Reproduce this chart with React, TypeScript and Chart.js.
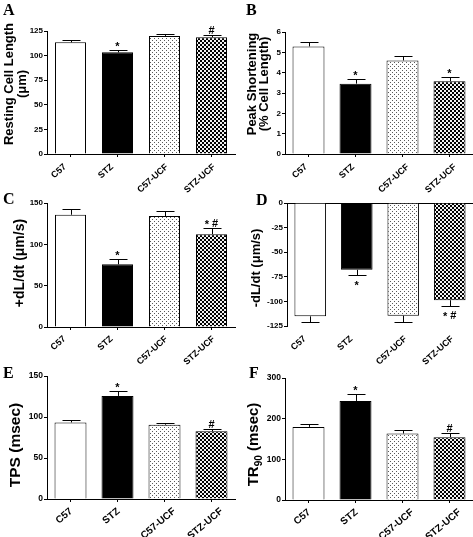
import React, { useEffect, useRef } from "react";
import { Chart, registerables } from "chart.js";

Chart.register(...registerables);

// ---------------- data ----------------
const CATEGORIES = ["C57", "STZ", "C57-UCF", "STZ-UCF"];

const RESTING_LENGTH = [113.5, 103.3, 120.0, 118.6];
const RESTING_LENGTH_SEM = [2.0, 2.1, 2.0, 2.4];
const RESTING_LENGTH_MARKS = ["", "*", "", "#"];
const RESTING_LENGTH_TICKS = [0, 25, 50, 75, 100, 125];
const RESTING_LENGTH_TITLE = ["Resting Cell Length", "(μm)"];

const PEAK_SHORTENING = [5.29, 3.46, 4.6, 3.58];
const PEAK_SHORTENING_SEM = [0.23, 0.25, 0.2, 0.19];
const PEAK_SHORTENING_MARKS = ["", "*", "", "*"];
const PEAK_SHORTENING_TICKS = [0, 1, 2, 3, 4, 5, 6];
const PEAK_SHORTENING_TITLE = ["Peak Shortening", "(% Cell Length)"];

const PLUS_DLDT = [135.8, 75.8, 134.2, 112.3];
const PLUS_DLDT_SEM = [6.9, 6.1, 6.1, 6.9];
const PLUS_DLDT_MARKS = ["", "*", "", "* #"];
const PLUS_DLDT_TICKS = [0, 50, 100, 150];
const PLUS_DLDT_TITLE = ["+dL/dt (μm/s)"];

const MINUS_DLDT = [-115.2, -67.9, -114.5, -98.8];
const MINUS_DLDT_SEM = [5.4, 5.5, 6.1, 6.2];
const MINUS_DLDT_MARKS = ["", "*", "", "* #"];
const MINUS_DLDT_TICKS = [0, -25, -50, -75, -100, -125];
const MINUS_DLDT_TITLE = ["-dL/dt (μm/s)"];

const TPS = [93.4, 125.7, 90.6, 82.5];
const TPS_SEM = [2.4, 6.5, 2.4, 3.2];
const TPS_MARKS = ["", "*", "", "#"];
const TPS_TICKS = [0, 50, 100, 150];
const TPS_TITLE = ["TPS (msec)"];

const TR90 = [179.8, 243.6, 163.5, 154.5];
const TR90_SEM = [6.6, 18.0, 9.8, 9.8];
const TR90_MARKS = ["", "*", "", "#"];
const TR90_TICKS = [0, 100, 200, 300];
const TR90_TITLE = ["TR_{90} (msec)"];

// ---------------- layout / style ----------------
type PanelCfg = {
  letter: string;
  values: number[];
  errors: number[];
  marks: string[];
  ticks: number[];
  title: string[];
  left: number; top: number; w: number; h: number;
  area: { l: number; t: number; r: number; b: number };
  letterX: number; letterY: number;
  titleX: number[]; titleY: number; titleSize: number;
  xFont: number; xAngle: number; xDx: number; xDy: number;
  tickFont: number;
  barPct: number;
  hanging?: boolean;
};

const PANELS: PanelCfg[] = [
  {
    letter: "A", values: RESTING_LENGTH, errors: RESTING_LENGTH_SEM, marks: RESTING_LENGTH_MARKS,
    ticks: RESTING_LENGTH_TICKS, title: RESTING_LENGTH_TITLE,
    left: 0, top: 0, w: 236, h: 200, area: { l: 47, t: 31, r: 235, b: 154 },
    letterX: 3, letterY: 15, titleX: [9, 22], titleY: 84, titleSize: 13,
    xFont: 9, xAngle: 42, xDx: -12, xDy: 9, tickFont: 8, barPct: 0.66,
  },
  {
    letter: "B", values: PEAK_SHORTENING, errors: PEAK_SHORTENING_SEM, marks: PEAK_SHORTENING_MARKS,
    ticks: PEAK_SHORTENING_TICKS, title: PEAK_SHORTENING_TITLE,
    left: 236, top: 0, w: 237, h: 200, area: { l: 49, t: 32, r: 237, b: 154 },
    letterX: 10, letterY: 15, titleX: [16.7, 28.7], titleY: 84, titleSize: 13,
    xFont: 9, xAngle: 42, xDx: -9, xDy: 9, tickFont: 8, barPct: 0.68,
  },
  {
    letter: "C", values: PLUS_DLDT, errors: PLUS_DLDT_SEM, marks: PLUS_DLDT_MARKS,
    ticks: PLUS_DLDT_TICKS, title: PLUS_DLDT_TITLE,
    left: 0, top: 175, w: 236, h: 200, area: { l: 47, t: 28, r: 235, b: 152 },
    letterX: 3, letterY: 29, titleX: [20.5], titleY: 88, titleSize: 14,
    xFont: 9, xAngle: 42, xDx: -12.5, xDy: 8, tickFont: 8, barPct: 0.66,
  },
  {
    letter: "D", values: MINUS_DLDT, errors: MINUS_DLDT_SEM, marks: MINUS_DLDT_MARKS,
    ticks: MINUS_DLDT_TICKS, title: MINUS_DLDT_TITLE,
    left: 236, top: 175, w: 237, h: 200, area: { l: 51, t: 28, r: 237, b: 151 },
    letterX: 20, letterY: 30, titleX: [20], titleY: 93, titleSize: 13,
    xFont: 9, xAngle: 42, xDx: -12, xDy: 9, tickFont: 8, barPct: 0.68, hanging: true,
  },
  {
    letter: "E", values: TPS, errors: TPS_SEM, marks: TPS_MARKS,
    ticks: TPS_TICKS, title: TPS_TITLE,
    left: 0, top: 355, w: 236, h: 182, area: { l: 47, t: 21, r: 235, b: 144 },
    letterX: 3, letterY: 23, titleX: [16], titleY: 90, titleSize: 15.5,
    xFont: 10, xAngle: 40, xDx: -7, xDy: 7, tickFont: 8.5, barPct: 0.68,
  },
  {
    letter: "F", values: TR90, errors: TR90_SEM, marks: TR90_MARKS,
    ticks: TR90_TICKS, title: TR90_TITLE,
    left: 236, top: 355, w: 237, h: 182, area: { l: 49, t: 23, r: 237, b: 145 },
    letterX: 13, letterY: 23, titleX: [18.3], titleY: 89.5, titleSize: 15,
    xFont: 10, xAngle: 40, xDx: -7, xDy: 7, tickFont: 8.5, barPct: 0.68,
  },
];

const SANS = '"Liberation Sans", Arial, sans-serif';
const SERIF = '"Liberation Serif", "Times New Roman", serif';

function makeDots(ctx: CanvasRenderingContext2D) {
  const c = document.createElement("canvas");
  c.width = 4; c.height = 4;
  const g = c.getContext("2d")!;
  g.fillStyle = "#ffffff"; g.fillRect(0, 0, 4, 4);
  g.fillStyle = "#5a5a5a";
  g.fillRect(0, 0, 1, 1);
  g.fillRect(2, 2, 1, 1);
  return ctx.createPattern(c, "repeat")!;
}

function makeChecker(ctx: CanvasRenderingContext2D) {
  const c = document.createElement("canvas");
  c.width = 4; c.height = 4;
  const g = c.getContext("2d")!;
  g.fillStyle = "#f2f2f2"; g.fillRect(0, 0, 4, 4);
  g.fillStyle = "#000000";
  g.fillRect(0, 0, 2, 2);
  g.fillRect(2, 2, 2, 2);
  return ctx.createPattern(c, "repeat")!;
}

function parseSegments(s: string) {
  const out: { text: string; sub: boolean }[] = [];
  const re = /_\{([^}]*)\}/g;
  let last = 0;
  let m: RegExpExecArray | null;
  while ((m = re.exec(s))) {
    if (m.index > last) out.push({ text: s.slice(last, m.index), sub: false });
    out.push({ text: m[1], sub: true });
    last = m.index + m[0].length;
  }
  if (last < s.length) out.push({ text: s.slice(last), sub: false });
  return out;
}

function Panel({ cfg }: { cfg: PanelCfg }) {
  const ref = useRef<HTMLCanvasElement>(null);

  useEffect(() => {
    const canvas = ref.current!;
    const ctx2d = canvas.getContext("2d")!;
    const fills = ["#ffffff", "#000000", makeDots(ctx2d), makeChecker(ctx2d)];

    const errorBars = {
      id: "errorBars" + cfg.letter,
      afterDatasetsDraw(chart: any) {
        const ctx: CanvasRenderingContext2D = chart.ctx;
        const meta = chart.getDatasetMeta(0);
        const ys = chart.scales.y;
        ctx.save();
        ctx.strokeStyle = "#000";
        ctx.fillStyle = "#000";
        ctx.lineWidth = 1;
        meta.data.forEach((bar: any, i: number) => {
          const v = cfg.values[i];
          const e = cfg.errors[i];
          const dir = v >= 0 ? 1 : -1;
          const x = Math.round(bar.x) + 0.5;
          const y0 = ys.getPixelForValue(v);
          const y1 = Math.round(ys.getPixelForValue(v + dir * e)) + 0.5;
          const hw = Math.round(bar.width * 0.28);
          ctx.beginPath();
          ctx.moveTo(x, y0);
          ctx.lineTo(x, y1);
          ctx.moveTo(x - hw, y1);
          ctx.lineTo(x + hw, y1);
          ctx.stroke();

          const mark = cfg.marks[i];
          if (mark) {
            const chars = mark.split(" ").filter(Boolean);
            ctx.font = `bold 11px ${SANS}`;
            const gap = 3;
            const widths = chars.map((ch) => ctx.measureText(ch).width);
            const total = widths.reduce((a, b) => a + b, 0) + gap * (chars.length - 1);
            let cx = bar.x - total / 2;
            const cy = dir > 0 ? y1 - 6 : y1 + 8;
            ctx.textAlign = "left";
            ctx.textBaseline = "alphabetic";
            chars.forEach((ch, k) => {
              const m = ctx.measureText(ch);
              const base = cy + (m.actualBoundingBoxAscent - m.actualBoundingBoxDescent) / 2;
              ctx.fillText(ch, cx, base);
              cx += widths[k] + gap;
            });
          }
        });
        ctx.restore();
      },
    };

    const xLabels = {
      id: "xLabels" + cfg.letter,
      afterDraw(chart: any) {
        const ctx: CanvasRenderingContext2D = chart.ctx;
        const xs = chart.scales.x;
        const axisY = chart.chartArea.bottom;
        const ang = (cfg.xAngle * Math.PI) / 180;
        const c = Math.cos(ang);
        const s = Math.sin(ang);
        ctx.save();
        ctx.fillStyle = "#000";
        ctx.font = `bold ${cfg.xFont}px ${SANS}`;
        ctx.textAlign = "left";
        ctx.textBaseline = "alphabetic";
        (chart.data.labels as string[]).forEach((lab, i) => {
          const m = ctx.measureText(lab);
          const W = m.width;
          const a = m.actualBoundingBoxAscent;
          const d = m.actualBoundingBoxDescent;
          const minX = -a * s;
          const maxX = W * c + d * s;
          const minY = -W * s - a * c;
          const ox = xs.getPixelForTick(i) + cfg.xDx - (minX + maxX) / 2;
          const oy = axisY + cfg.xDy - minY;
          ctx.save();
          ctx.translate(ox, oy);
          ctx.rotate(-ang);
          ctx.fillText(lab, 0, 0);
          ctx.restore();
        });
        ctx.restore();
      },
    };

    const panelText = {
      id: "panelText" + cfg.letter,
      afterDraw(chart: any) {
        const ctx: CanvasRenderingContext2D = chart.ctx;
        ctx.save();
        ctx.fillStyle = "#000";
        ctx.font = `bold 16px ${SERIF}`;
        ctx.textAlign = "left";
        ctx.textBaseline = "alphabetic";
        ctx.fillText(cfg.letter, cfg.letterX, cfg.letterY);

        const size = cfg.titleSize;
        const fMain = `bold ${size}px ${SANS}`;
        const fSub = `bold ${Math.round(size * 0.65)}px ${SANS}`;
        cfg.title.forEach((line, li) => {
          const segs = parseSegments(line);
          ctx.save();
          ctx.translate(cfg.titleX[li], cfg.titleY);
          ctx.rotate(-Math.PI / 2);
          let total = 0;
          segs.forEach((sg) => {
            ctx.font = sg.sub ? fSub : fMain;
            total += ctx.measureText(sg.text).width;
          });
          let x = -total / 2;
          ctx.textAlign = "left";
          ctx.textBaseline = "middle";
          segs.forEach((sg) => {
            ctx.font = sg.sub ? fSub : fMain;
            ctx.fillText(sg.text, x, sg.sub ? size * 0.32 : 0);
            x += ctx.measureText(sg.text).width;
          });
          ctx.restore();
        });
        ctx.restore();
      },
    };

    const { l, t, r, b } = cfg.area;
    const hanging = !!cfg.hanging;
    const xAxisH = cfg.h - b;

    const chart = new Chart(canvas, {
      type: "bar",
      data: {
        labels: CATEGORIES,
        datasets: [
          {
            data: cfg.values,
            backgroundColor: fills as any,
            borderColor: "#000",
            borderWidth: 1,
            barPercentage: cfg.barPct,
            categoryPercentage: 1,
          },
        ],
      },
      options: {
        animation: false,
        responsive: false,
        maintainAspectRatio: false,
        events: [],
        layout: {
          padding: { left: 0, top: t, right: cfg.w - r, bottom: 0 },
        },
        plugins: {
          legend: { display: false },
          tooltip: { enabled: false },
          title: { display: false },
        },
        scales: {
          x: {
            type: "category",
            offset: true,
            grid: {
              display: !hanging,
              drawOnChartArea: false,
              drawTicks: !hanging,
              tickLength: 3,
              color: "#000",
              offset: false,
            },
            border: { display: !hanging, color: "#000", width: 1 },
            ticks: { display: false, autoSkip: false },
            afterFit: (sc: any) => {
              sc.height = xAxisH;
            },
          },
          y: {
            min: Math.min(...cfg.ticks),
            max: Math.max(...cfg.ticks),
            afterBuildTicks: (sc: any) => {
              sc.ticks = [...cfg.ticks].sort((p, q) => p - q).map((v) => ({ value: v }));
            },
            grid: {
              display: true,
              drawOnChartArea: hanging,
              drawTicks: true,
              tickLength: 3,
              color: (c: any) => (hanging && c.tick && c.tick.value === 0 ? "#000" : "rgba(0,0,0,0)"),
              tickColor: "#000",
              lineWidth: 1,
            },
            border: { display: true, color: "#000", width: 1 },
            ticks: {
              padding: 1,
              color: "#000",
              font: { family: SANS, size: cfg.tickFont, weight: "bold" },
            },
            afterFit: (sc: any) => {
              sc.width = l;
            },
          },
        },
      },
      plugins: [errorBars, xLabels, panelText],
    } as any);

    return () => chart.destroy();
  }, [cfg]);

  return (
    <canvas
      ref={ref}
      width={cfg.w}
      height={cfg.h}
      style={{ position: "absolute", left: cfg.left, top: cfg.top, width: cfg.w, height: cfg.h }}
    />
  );
}

export default function App() {
  return (
    <div
      style={{
        position: "absolute",
        left: 0,
        top: 0,
        width: 473,
        height: 537,
        background: "#ffffff",
        overflow: "hidden",
      }}
    >
      {PANELS.map((p) => (
        <Panel key={p.letter} cfg={p} />
      ))}
    </div>
  );
}
